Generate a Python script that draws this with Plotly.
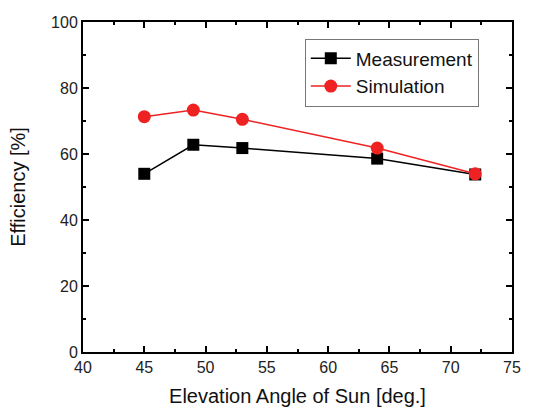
import plotly.graph_objects as go

angles = [45, 49, 53, 64, 72]
measurement = [54.0, 62.8, 61.8, 58.6, 53.8]
simulation = [71.3, 73.3, 70.5, 61.8, 54.0]

font = "Liberation Sans, Arial, sans-serif"

fig = go.Figure()
fig.add_trace(go.Scatter(x=angles, y=measurement, mode="lines+markers", name="Measurement",
                         line=dict(color="black", width=1.5),
                         marker=dict(symbol="square", size=12, color="black")))
fig.add_trace(go.Scatter(x=angles, y=simulation, mode="lines+markers", name="Simulation",
                         line=dict(color="#ee2222", width=1.5),
                         marker=dict(symbol="circle", size=13, color="#ee2222")))

axis_common = dict(showline=True, linecolor="black", linewidth=2, mirror="allticks",
                   ticks="inside", ticklen=6, tickwidth=1.5, tickcolor="black",
                   showgrid=False, zeroline=False, automargin=False,
                   tickfont=dict(family=font, size=16, color="#222"))

fig.update_xaxes(range=[40, 75], tickvals=[40, 45, 50, 55, 60, 65, 70, 75],
                 minor=dict(ticks="inside", ticklen=3, tickwidth=1.5, tickcolor="black", dtick=2.5, tick0=40),
                 title=dict(text="Elevation Angle of Sun [deg.]", font=dict(family=font, size=20, color="#111"), standoff=14),
                 **axis_common)
fig.update_yaxes(range=[0, 100], tickvals=[0, 20, 40, 60, 80, 100],
                 minor=dict(ticks="inside", ticklen=3, tickwidth=1.5, tickcolor="black", dtick=10, tick0=0),
                 **axis_common)

fig.add_annotation(text="Efficiency [%]", xref="paper", yref="paper", x=-0.152, y=0.5,
                   xanchor="center", yanchor="middle", textangle=-90, showarrow=False,
                   font=dict(family=font, size=20, color="#111"))

fig.update_layout(width=542, height=408, margin=dict(l=83, r=30, t=22, b=56),
                  plot_bgcolor="white", paper_bgcolor="white",
                  legend=dict(x=0.517, y=0.95, xanchor="left", yanchor="top",
                              bordercolor="#777", borderwidth=1, bgcolor="white",
                              font=dict(family=font, size=19, color="#111"),
                              tracegroupgap=0, itemwidth=40),
                  showlegend=True)

fig.write_html("out.html")
